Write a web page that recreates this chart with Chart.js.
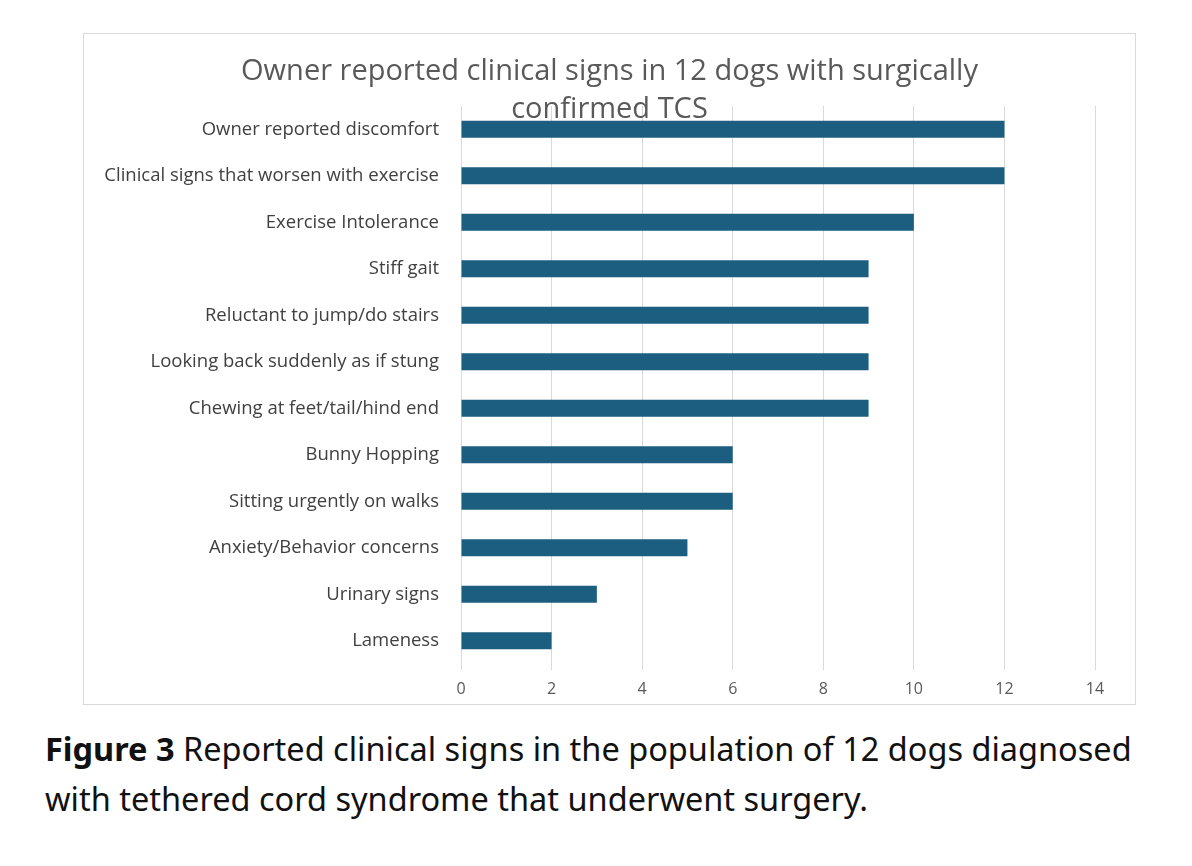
<!DOCTYPE html>
<html>
<head>
<meta charset="utf-8">
<script src="https://cdn.jsdelivr.net/npm/chart.js@4"></script>
<style>
    body { margin: 0; background: #fff; width: 1192px; height: 866px; position: relative; }
    #frame { position: absolute; left: 83px; top: 33px; width: 1051px; height: 670px; border: 1px solid #d9d9d9; }
    #frame canvas { position: absolute; left: 0; top: 0; }
    #chartTitle { position: absolute; left: 0; top: 16px; width: 1051px; text-align: center; font-family: "Open Sans", sans-serif; font-size: 29px; line-height: 37.5px; color: #595959; pointer-events: none; }
    #caption { position: absolute; left: 45px; top: 724px; width: 1100px; font-family: "Noto Sans", sans-serif; font-size: 32.5px; line-height: 50px; color: #111; }
</style>
</head>
<body>
<div id="frame">
    <canvas id="signsChart" width="1051" height="670"></canvas>
    <div id="chartTitle">Owner reported clinical signs in 12 dogs with surgically<br>confirmed TCS</div>
</div>
<div id="caption"><b>Figure 3</b> Reported clinical signs in the population of 12 dogs diagnosed with tethered cord syndrome that underwent surgery.</div>
<script>
const signs = [
    'Owner reported discomfort',
    'Clinical signs that worsen with exercise',
    'Exercise Intolerance',
    'Stiff gait',
    'Reluctant to jump/do stairs',
    'Looking back suddenly as if stung',
    'Chewing at feet/tail/hind end',
    'Bunny Hopping',
    'Sitting urgently on walks',
    'Anxiety/Behavior concerns',
    'Urinary signs',
    'Lameness'
];
const dogCounts = [12, 12, 10, 9, 9, 9, 9, 6, 6, 5, 3, 2];
const xTicks = [0, 2, 4, 6, 8, 10, 12, 14];

document.addEventListener('DOMContentLoaded', () => {
    const ctx = document.getElementById('signsChart').getContext('2d');

    new Chart(ctx, {
        type: 'bar',
        data: {
            labels: signs,
            datasets: [{
                label: 'Dogs',
                data: dogCounts,
                backgroundColor: '#1b5e80',
                categoryPercentage: 1,
                barPercentage: 0.37
            }]
        },
        options: {
            indexAxis: 'y',
            responsive: false,
            animation: false,
            // title sits in the HTML overlay, so leave room for it at the top
            layout: { padding: { top: 72, left: 0, right: 40, bottom: 0 } },
            scales: {
                x: {
                    min: 0,
                    max: 14,
                    afterBuildTicks: (scale) => { scale.ticks = xTicks.map(v => ({ value: v })); },
                    afterFit: (scale) => { scale.height = 40; },
                    ticks: {
                        color: '#595959',
                        font: { family: 'Open Sans', size: 16 },
                        padding: 10
                    },
                    grid: { color: '#d9d9d9', tickLength: 6, drawTicks: true },
                    border: { display: false }
                },
                y: {
                    afterFit: (scale) => { scale.width = 377; },
                    ticks: {
                        color: '#404040',
                        font: { family: 'Open Sans', size: 18.5 },
                        padding: 14
                    },
                    grid: { display: false },
                    border: { display: false }
                }
            },
            plugins: {
                legend: { display: false },
                tooltip: { enabled: false },
                title: { display: false }
            }
        }
    });
});
</script>
</body>
</html>
